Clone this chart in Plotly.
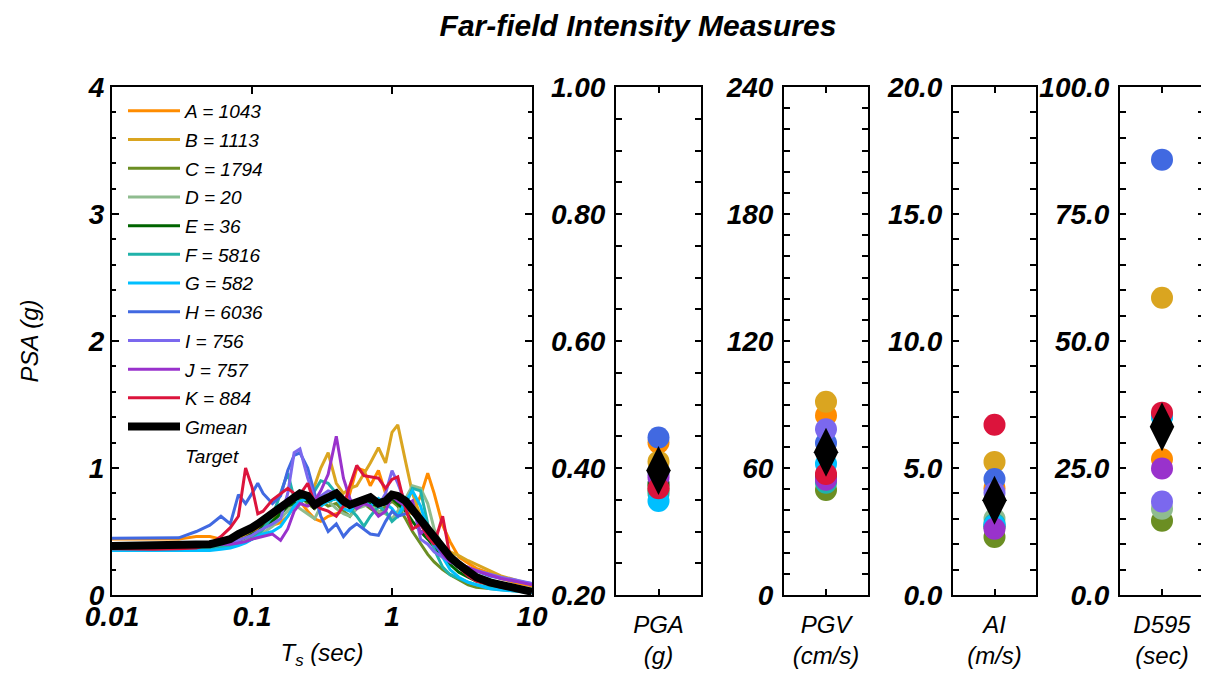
import plotly.graph_objects as go

# spectral periods (sec) shared by all records
periods = [0.01, 0.02, 0.03, 0.04, 0.05, 0.06, 0.07, 0.08, 0.09, 0.1, 0.11, 0.12, 0.14, 0.16, 0.18,
           0.2, 0.22, 0.25, 0.28, 0.31, 0.35, 0.4, 0.45, 0.5, 0.56, 0.63, 0.7, 0.8, 0.9, 1.0,
           1.1, 1.25, 1.4, 1.6, 1.8, 2.0, 2.3, 2.6, 3.0, 3.5, 4.0, 5.0, 6.0, 7.5, 10.0]

psa_A = [0.44, 0.44, 0.44, 0.46, 0.46, 0.44, 0.44, 0.46, 0.48, 0.50, 0.52, 0.55, 0.55, 0.57, 0.62,
         0.70, 0.74, 0.66, 0.60, 0.58, 0.62, 0.64, 0.66, 0.80, 1.00, 0.98, 0.86, 0.98, 0.80, 0.74,
         0.72, 0.66, 0.64, 0.78, 0.96, 0.80, 0.55, 0.42, 0.30, 0.25, 0.21, 0.17, 0.13, 0.10, 0.07]
psa_B = [0.40, 0.40, 0.40, 0.40, 0.40, 0.41, 0.42, 0.44, 0.46, 0.48, 0.50, 0.53, 0.60, 0.66, 0.72,
         0.76, 0.74, 0.78, 0.86, 1.00, 1.12, 0.88, 0.80, 0.84, 0.86, 0.95, 1.04, 1.16, 1.04, 1.28,
         1.34, 1.05, 0.80, 0.62, 0.50, 0.44, 0.38, 0.34, 0.31, 0.27, 0.24, 0.19, 0.15, 0.12, 0.08]
psa_C = [0.38, 0.38, 0.38, 0.38, 0.38, 0.38, 0.39, 0.40, 0.42, 0.45, 0.48, 0.52, 0.58, 0.64, 0.70,
         0.76, 0.78, 0.72, 0.68, 0.74, 0.70, 0.72, 0.66, 0.62, 0.70, 0.72, 0.68, 0.64, 0.70, 0.74,
         0.70, 0.60, 0.50, 0.40, 0.32, 0.26, 0.20, 0.16, 0.12, 0.08, 0.06, 0.05, 0.04, 0.03, 0.02]
psa_D = [0.38, 0.38, 0.38, 0.38, 0.38, 0.39, 0.40, 0.41, 0.42, 0.44, 0.46, 0.49, 0.54, 0.60, 0.66,
         0.72, 0.68, 0.64, 0.60, 0.70, 0.74, 0.68, 0.64, 0.62, 0.68, 0.70, 0.72, 0.66, 0.64, 0.60,
         0.66, 0.76, 0.86, 0.84, 0.72, 0.52, 0.38, 0.30, 0.24, 0.19, 0.16, 0.12, 0.09, 0.07, 0.05]
psa_E = [0.385, 0.385, 0.385, 0.385, 0.39, 0.40, 0.41, 0.43, 0.45, 0.48, 0.50, 0.54, 0.58, 0.64, 0.70,
         0.72, 0.76, 0.74, 0.70, 0.72, 0.74, 0.76, 0.72, 0.70, 0.72, 0.74, 0.72, 0.70, 0.72, 0.76,
         0.72, 0.66, 0.58, 0.50, 0.44, 0.38, 0.30, 0.24, 0.18, 0.14, 0.11, 0.08, 0.06, 0.04, 0.03]
psa_F = [0.37, 0.37, 0.37, 0.37, 0.37, 0.38, 0.39, 0.40, 0.42, 0.44, 0.47, 0.52, 0.62, 0.80, 0.96,
         0.76, 0.72, 0.78, 0.82, 0.90, 0.88, 0.80, 0.74, 0.68, 0.62, 0.54, 0.62, 0.70, 0.66, 0.58,
         0.62, 0.70, 0.84, 0.82, 0.56, 0.36, 0.22, 0.16, 0.13, 0.10, 0.08, 0.06, 0.05, 0.04, 0.03]
psa_G = [0.35, 0.35, 0.35, 0.35, 0.35, 0.36, 0.37, 0.39, 0.41, 0.44, 0.46, 0.48, 0.50, 0.54, 0.62,
         0.70, 0.74, 0.76, 0.72, 0.70, 0.74, 0.76, 0.68, 0.66, 0.72, 0.74, 0.70, 0.76, 0.72, 0.68,
         0.62, 0.74, 0.82, 0.70, 0.52, 0.42, 0.30, 0.20, 0.14, 0.10, 0.08, 0.05, 0.04, 0.03, 0.02]
psa_H = [0.446, 0.446, 0.45, 0.50, 0.55, 0.62, 0.56, 0.79, 0.72, 0.80, 0.88, 0.80, 0.72, 0.78, 0.98,
         1.10, 1.12, 1.00, 0.80, 0.62, 0.50, 0.56, 0.46, 0.52, 0.56, 0.52, 0.48, 0.47, 0.58, 0.66,
         0.62, 0.64, 0.72, 0.56, 0.46, 0.40, 0.32, 0.30, 0.26, 0.21, 0.19, 0.15, 0.13, 0.11, 0.09]
psa_I = [0.39, 0.39, 0.39, 0.39, 0.39, 0.40, 0.41, 0.43, 0.45, 0.47, 0.50, 0.52, 0.56, 0.60, 0.80,
         1.12, 1.15, 0.92, 0.76, 0.78, 0.82, 0.80, 0.74, 0.70, 0.74, 0.72, 0.76, 0.70, 0.80, 0.98,
         0.88, 0.72, 0.74, 0.44, 0.40, 0.34, 0.30, 0.26, 0.23, 0.21, 0.19, 0.16, 0.14, 0.12, 0.09]
psa_J = [0.385, 0.385, 0.385, 0.385, 0.39, 0.40, 0.40, 0.41, 0.42, 0.44, 0.45, 0.46, 0.48, 0.43, 0.52,
         0.66, 0.72, 0.70, 0.74, 0.82, 0.95, 1.25, 0.92, 0.76, 0.68, 0.72, 0.70, 0.62, 0.66, 0.78,
         0.74, 0.70, 0.74, 0.48, 0.54, 0.44, 0.32, 0.26, 0.24, 0.22, 0.19, 0.16, 0.13, 0.11, 0.08]
psa_K = [0.365, 0.36, 0.365, 0.37, 0.40, 0.46, 0.53, 0.62, 1.00, 0.85, 0.64, 0.66, 0.75, 0.80, 0.84,
         0.80, 0.79, 0.88, 0.72, 0.68, 0.66, 0.62, 0.70, 0.86, 1.02, 0.94, 0.93, 0.92, 0.84, 0.91,
         0.93, 0.68, 0.52, 0.56, 0.46, 0.40, 0.62, 0.30, 0.22, 0.15, 0.11, 0.08, 0.06, 0.045, 0.03]
psa_gmean = [0.386, 0.386, 0.387, 0.39, 0.40, 0.42, 0.44, 0.48, 0.50, 0.53, 0.56, 0.59, 0.64, 0.68, 0.73,
             0.77, 0.80, 0.78, 0.71, 0.74, 0.77, 0.80, 0.74, 0.71, 0.73, 0.75, 0.77, 0.72, 0.74, 0.79,
             0.78, 0.74, 0.67, 0.60, 0.52, 0.46, 0.36, 0.30, 0.24, 0.18, 0.14, 0.10, 0.08, 0.05, 0.025]

record_names = ["A = 1043", "B = 1113", "C = 1794", "D = 20", "E = 36", "F = 5816",
                "G = 582", "H = 6036", "I = 756", "J = 757", "K = 884"]
colors = ["#FF8C00", "#DAA520", "#6B8E23", "#8FBC8F", "#006400", "#20B2AA",
          "#00BFFF", "#4169E1", "#7B68EE", "#9932CC", "#DC143C"]

# intensity measures per record (A..K) and their geometric mean
pga = [0.44, 0.41, 0.365, 0.37, 0.375, 0.36, 0.348, 0.448, 0.39, 0.385, 0.368]
pgv = [84.8, 91.3, 49.6, 55.0, 56.0, 53.0, 62.0, 71.8, 78.3, 54.5, 57.2]
ai = [4.2, 5.24, 2.28, 3.0, 2.7, 2.8, 2.75, 4.57, 4.03, 2.61, 6.7]
d595 = [26.7, 58.5, 14.6, 17.0, 35.2, 35.5, 35.0, 85.7, 18.4, 24.9, 35.9]
pga_gmean = 0.396
pgv_gmean = 67.5
ai_gmean = 3.73
d595_gmean = 33.1

FONT = "Liberation Sans, Arial, sans-serif"
tick_font = dict(family=FONT, size=28, color="black", weight="bold", style="italic")
title_font = dict(family=FONT, size=24, color="black", style="italic")

all_psa = [psa_A, psa_B, psa_C, psa_D, psa_E, psa_F, psa_G, psa_H, psa_I, psa_J, psa_K]

fig = go.Figure()

for i in range(len(record_names)):
    fig.add_trace(go.Scatter(x=periods, y=all_psa[i], mode="lines", name=record_names[i],
                             legendgroup=record_names[i],
                             line=dict(color=colors[i], width=3)))
fig.add_trace(go.Scatter(x=periods, y=psa_gmean, mode="lines", name="Gmean", legendgroup="Gmean",
                         line=dict(color="black", width=8)))
fig.add_trace(go.Scatter(x=[None], y=[None], mode="lines", name="Target", legendgroup="Target",
                         line=dict(color="rgba(0,0,0,0)", width=2)))

# intensity measure panels
panels = [(pga, pga_gmean, "2"), (pgv, pgv_gmean, "3"), (ai, ai_gmean, "4"), (d595, d595_gmean, "5")]
for vals, gm, ax in panels:
    for i in range(len(vals)):
        fig.add_trace(go.Scatter(x=[1], y=[vals[i]], mode="markers", showlegend=False,
                                 xaxis="x" + ax, yaxis="y" + ax,
                                 marker=dict(size=22, color=colors[i])))
    fig.add_trace(go.Scatter(x=[1], y=[gm], mode="markers", showlegend=False,
                             xaxis="x" + ax, yaxis="y" + ax,
                             marker=dict(size=35, color="black", symbol="diamond-tall")))

# page body has an 8px margin, so the figure is drawn 8px in from the window edge
W, H = 1201, 674
ydom = [1 - 587 / H, 1 - 79 / H]


def frame(**kw):
    d = dict(showline=True, linecolor="black", linewidth=2, mirror="ticks", ticks="inside",
             tickcolor="black", tickwidth=1.5, showgrid=False, zeroline=False, automargin=False,
             tickfont=tick_font, ticklabelstandoff=3)
    d.update(kw)
    return d


layout = dict(
    width=W, height=H,
    margin=dict(l=0, r=0, t=0, b=0),
    paper_bgcolor="white", plot_bgcolor="white",
    title=dict(text="Far-field Intensity Measures", x=630 / W, xanchor="center", y=1 - 17 / H,
               yanchor="middle", font=dict(family=FONT, size=30, color="black", weight="bold", style="italic")),
    legend=dict(x=115 / W, y=1 - 84 / H, xanchor="left", yanchor="top", bgcolor="rgba(0,0,0,0)",
                font=dict(family=FONT, size=19, color="black", style="italic"),
                tracegroupgap=1, itemwidth=52),
    xaxis=frame(type="log", range=[-2, 1], domain=[104 / W, 524 / W],
                tickvals=[0.01, 0.1, 1, 10], ticktext=["0.01", "0.1", "1", "10"], ticklen=7,
                ticklabelstandoff=-5,
                title=dict(text="T<sub>s</sub> (sec)", font=title_font, standoff=14)),
    yaxis=frame(range=[0, 4], dtick=1, domain=ydom, ticklen=7, ticklabelstandoff=0,
                minor=dict(dtick=0.2, ticks="inside", ticklen=4, tickcolor="black"),
                title=dict(text="PSA (g)", font=title_font, standoff=42)),
)

panel_specs = [
    ("2", [608, 693], [0.2, 1.0], 0.2, 0.05, ".2f", "PGA<br>(g)"),
    ("3", [776, 860], [0, 240], 60, 10, "d", "PGV<br>(cm/s)"),
    ("4", [945, 1028], [0, 20], 5, 1, ".1f", "AI<br>(m/s)"),
    ("5", [1112, 1196], [0, 100], 25, 5, ".1f", "D595<br>(sec)"),
]
for ax, xpx, yr, dt, mdt, fmt, label in panel_specs:
    layout["xaxis" + ax] = frame(domain=[xpx[0] / W, xpx[1] / W], range=[0, 2], tickvals=[1],
                                 showticklabels=False, ticklen=6, anchor="y" + ax,
                                 title=dict(text=label, font=title_font, standoff=20))
    layout["yaxis" + ax] = frame(domain=ydom, range=yr, dtick=dt, tick0=yr[0], tickformat=fmt,
                                 ticklen=6, anchor="x" + ax,
                                 minor=dict(dtick=mdt, ticks="inside", ticklen=6, tickcolor="black"))

fig.update_layout(**layout)
fig.write_html("out.html")
